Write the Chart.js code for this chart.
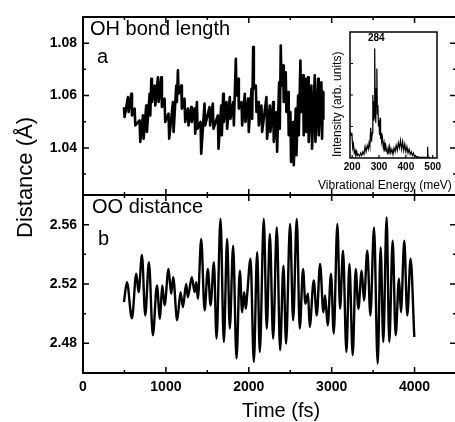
<!DOCTYPE html>
<html>
<head>
<meta charset="utf-8">
<script src="https://cdn.jsdelivr.net/npm/chart.js@4"></script>
<style>
  html, body { margin: 0; padding: 0; background: #fff; overflow: hidden; }
  #wrap { position: relative; width: 455px; height: 422px; overflow: hidden; background: #fff; font-family: 'Liberation Sans', Arial, sans-serif; color: #000; }
  #wrap canvas { position: absolute; }
  .lbl { position: absolute; white-space: nowrap; font-size: 20px; line-height: 20px; }
  .rot { transform-origin: 0 0; transform: rotate(-90deg); }
</style>
</head>
<body>
<div id="wrap">
  <canvas id="cTop" width="460" height="196" style="left:0;top:0"></canvas>
  <canvas id="cBot" width="460" height="229" style="left:0;top:193px"></canvas>
  <canvas id="cIns" width="145" height="180" style="left:310px;top:15px"></canvas>

  <div class="lbl" style="left:90px;top:18px">OH bond length</div>
  <div class="lbl" style="left:97px;top:46px">a</div>
  <div class="lbl" style="left:92px;top:196px">OO distance</div>
  <div class="lbl" style="left:98px;top:228px">b</div>
  <div class="lbl" style="left:242px;top:400px">Time (fs)</div>
  <div class="lbl rot" style="left:14px;top:238px;font-size:22px;line-height:22px">Distance (Å)</div>

  <div class="lbl rot" style="left:331px;top:157px;font-size:12px;line-height:12px">Intensity (arb. units)</div>
  <div class="lbl" style="left:318px;top:179px;font-size:12px;line-height:12px">Vibrational Energy (meV)</div>
  <div class="lbl" style="left:368px;top:33px;font-size:10px;line-height:10px;font-weight:bold">284</div>
</div>
<script>
// panel a: OH bond length (fs, Angstrom)
const ohTime = [494,502,542,550,583,591,623,631,683,691,723,731,763,771,804,812,824,832,864,872,
  904,912,944,952,984,992,1032,1040,1085,1093,1125,1133,1145,1153,1185,1193,1225,1233,1265,1273,
  1305,1313,1346,1354,1374,1382,1418,1426,1466,1474,1526,1534,1566,1574,1627,1635,1667,1675,1691,1699,
  1731,1739,1771,1779,1812,1820,1844,1852,1872,1880,1912,1920,1952,1960,1992,2000,2033,2041,2053,2061,
  2085,2093,2113,2121,2153,2161,2213,2221,2253,2261,2294,2302,2334,2342,2366,2374,2386,2394,2414,2422,
  2446,2454,2474,2482,2502,2510,2535,2543,2567,2575,2595,2603,2623,2631,2655,2663,2687,2695,2715,2723,
  2755,2763,2796,2804,2836,2844,2876,2884,2896,2900];
const ohLength = [1.0556,1.0518,1.0594,1.0537,1.0607,1.0524,1.0550,1.0486,1.0505,1.0423,1.0524,1.0435,1.0562,1.0461,1.0607,1.0524,1.0664,1.0575,1.0638,1.0562,
  1.0670,1.0575,1.0670,1.0556,1.0588,1.0499,1.0531,1.0435,1.0575,1.0461,1.0638,1.0575,1.0696,1.0607,1.0638,1.0550,1.0588,1.0499,1.0550,1.0486,
  1.0556,1.0499,1.0550,1.0454,1.0575,1.0473,1.0499,1.0378,1.0569,1.0486,1.0556,1.0486,1.0569,1.0473,1.0524,1.0397,1.0562,1.0448,1.0607,1.0499,
  1.0575,1.0473,1.0594,1.0511,1.0575,1.0486,1.0740,1.0600,1.0664,1.0550,1.0575,1.0486,1.0607,1.0499,1.0588,1.0461,1.0626,1.0511,1.0785,1.0626,
  1.0638,1.0537,1.0575,1.0486,1.0562,1.0461,1.0594,1.0435,1.0562,1.0461,1.0575,1.0423,1.0537,1.0385,1.0651,1.0473,1.0791,1.0638,1.0715,1.0575,
  1.0689,1.0537,1.0613,1.0448,1.0537,1.0346,1.0499,1.0334,1.0550,1.0372,1.0600,1.0448,1.0734,1.0537,1.0677,1.0448,1.0664,1.0461,1.0670,1.0423,
  1.0638,1.0397,1.0677,1.0423,1.0664,1.0448,1.0651,1.0435,1.0613,1.0511];

// panel b: OO distance
const ooTime = [494,530,590,643,671,711,751,795,843,892,928,956,984,1032,1064,1088,1136,1177,1205,1245,
  1265,1313,1346,1366,1386,1426,1467,1506,1539,1579,1611,1659,1699,1739,1771,1811,1852,1892,1920,1944,
  1964,1980,2021,2061,2101,2133,2181,2217,2254,2294,2338,2378,2418,2450,2498,2535,2579,2615,2655,2683,
  2715,2735,2784,2820,2860,2900,2920,2952,2992,3025,3069,3101,3137,3178,3214,3254,3290,3322,3362,3390,
  3430,3467,3511,3555,3591,3623,3663,3695,3736,3772,3812,3836,3876,3912,3952,3997];
const ooDist = [2.5078,2.5212,2.4968,2.527,2.5145,2.5396,2.4988,2.5347,2.4854,2.519,2.4966,2.519,2.5056,2.5302,2.5134,2.5246,2.4955,2.5145,2.5044,2.520,
  2.5111,2.5246,2.5145,2.5212,2.510,2.5504,2.5022,2.5302,2.5056,2.5347,2.4832,2.5638,2.4809,2.5504,2.490,2.5459,2.4698,2.529,2.501,2.5145,
  2.5033,2.5123,2.537,2.4675,2.5414,2.4742,2.5638,2.490,2.5537,2.4832,2.5582,2.4753,2.5324,2.4798,2.5605,2.4955,2.5638,2.490,2.5302,2.5067,
  2.5134,2.491,2.5224,2.4988,2.5336,2.501,2.5123,2.4921,2.5269,2.4866,2.5605,2.5033,2.5425,2.4742,2.5336,2.472,2.5302,2.5033,2.529,2.5089,
  2.5425,2.4988,2.5582,2.4664,2.5447,2.4809,2.5649,2.4809,2.5492,2.4854,2.5235,2.501,2.5492,2.4988,2.537,2.4843];

// inset: vibrational spectrum
const energy = [193,196,199,202,205,208,211,214,217,220,224,228,232,236,240,244,248,252,256,260,
  263,266,269,272,275,277,279,281,283,284,286,288,290,292,294,296,298,300,302,304,
  306,308,310,313,316,319,322,325,328,331,334,337,340,344,348,352,356,360,364,368,
  372,376,380,384,388,392,396,400,404,408,412,416,420,424,428,432,436,440,445,450,
  455,460,465,470,475,479,481,483,487,490];
const intensity = [0.21,0.18,0.20,0.08,0.11,0.04,0.06,0.02,0.05,0.02,0.03,0.015,0.04,0.02,0.05,0.03,0.09,0.05,0.10,0.07,
  0.12,0.09,0.24,0.13,0.20,0.50,0.30,0.45,0.32,0.87,0.40,0.28,0.55,0.71,0.35,0.42,0.25,0.30,0.18,0.32,
  0.15,0.20,0.13,0.16,0.08,0.12,0.05,0.10,0.06,0.04,0.08,0.03,0.09,0.04,0.07,0.03,0.08,0.05,0.10,0.06,
  0.12,0.08,0.14,0.07,0.13,0.06,0.11,0.05,0.09,0.04,0.07,0.03,0.05,0.02,0.04,0.01,0.02,0.005,0.01,0.005,
  0.005,0.005,0.005,0.005,0.005,0.005,0.09,0.005,0.005,0.005];

// tick marks
const timeMajor = [0,1000,2000,3000,4000];
const timeMinor = [500,1500,2500,3500];
const ohMajor = [1.04,1.06,1.08];
const ohMinor = [1.03,1.05,1.07];
const ooMajor = [2.48,2.52,2.56];
const ooMinor = [2.50,2.54];
const energyTicks = [200,300,400,500];
const intensityTicks = [0.25,0.5,0.75];

Chart.defaults.font.family = "'Liberation Sans', Arial, sans-serif";
Chart.defaults.color = '#000';

// box round the plot area plus inward ticks
const frameTicks = {
  id: 'frameTicks',
  afterDraw(chart, args, o) {
    const {ctx, chartArea: a, scales} = chart;
    ctx.save();
    ctx.strokeStyle = '#000';
    ctx.lineWidth = o.width;
    ctx.strokeRect(a.left, a.top, a.right - a.left, a.bottom - a.top);
    ctx.beginPath();
    (o.x || []).forEach(([v, len]) => {
      const p = scales.x.getPixelForValue(v);
      if (o.xSides.includes('b')) { ctx.moveTo(p, a.bottom); ctx.lineTo(p, a.bottom - len); }
      if (o.xSides.includes('t')) { ctx.moveTo(p, a.top); ctx.lineTo(p, a.top + len); }
    });
    (o.y || []).forEach(([v, len]) => {
      const p = scales.y.getPixelForValue(v);
      if (o.ySides.includes('l')) { ctx.moveTo(a.left, p); ctx.lineTo(a.left + len, p); }
      if (o.ySides.includes('r')) { ctx.moveTo(a.right, p); ctx.lineTo(a.right - len, p); }
    });
    ctx.lineWidth = o.tickWidth;
    ctx.stroke();
    ctx.restore();
  }
};

// fixed axis box size, no extra padding from the tick labels
const fixW = w => s => { s.width = w; s.paddingTop = s.paddingBottom = s.paddingLeft = s.paddingRight = 0; };
const fixH = h => s => { s.height = h; s.paddingTop = s.paddingBottom = s.paddingLeft = s.paddingRight = 0; };
const useTicks = vals => s => { s.ticks = vals.map(v => ({value: v})); };

const tickFont = {size: 14, weight: 'bold'};
const timeTickMarks = timeMajor.map(v => [v, 6]).concat(timeMinor.map(v => [v, 3]));

const pts = (xs, ys) => xs.map((x, i) => ({x: x, y: ys[i]}));

new Chart(document.getElementById('cTop'), {
  type: 'line',
  data: { datasets: [{ data: pts(ohTime, ohLength), borderColor: '#000', borderWidth: 2.6, borderJoinStyle: 'round', pointRadius: 0, tension: 0 }] },
  options: {
    responsive: false, animation: false,
    layout: { padding: { top: 17, right: 4, bottom: 1, left: 0 } },
    plugins: {
      legend: { display: false }, tooltip: { enabled: false },
      frameTicks: { width: 2, tickWidth: 1.5, xSides: 'tb', ySides: 'lr',
        x: timeTickMarks,
        y: ohMajor.map(v => [v, 6]).concat(ohMinor.map(v => [v, 3])) }
    },
    scales: {
      x: { type: 'linear', min: 0, max: 4500, display: false },
      y: { min: 1.022, max: 1.09,
        afterBuildTicks: useTicks(ohMajor), afterFit: fixW(83),
        grid: { display: false, drawTicks: false }, border: { display: false },
        ticks: { padding: 6, font: tickFont, callback: v => v.toFixed(2) } }
    }
  },
  plugins: [frameTicks]
});

new Chart(document.getElementById('cBot'), {
  type: 'line',
  data: { datasets: [{ data: pts(ooTime, ooDist), borderColor: '#000', borderWidth: 2.4, pointRadius: 0, cubicInterpolationMode: 'monotone' }] },
  options: {
    responsive: false, animation: false,
    layout: { padding: { top: 2, right: 4, bottom: 0, left: 0 } },
    plugins: {
      legend: { display: false }, tooltip: { enabled: false },
      frameTicks: { width: 2, tickWidth: 1.5, xSides: 'tb', ySides: 'lr',
        x: timeTickMarks,
        y: ooMajor.map(v => [v, 6]).concat(ooMinor.map(v => [v, 3])) }
    },
    scales: {
      x: { type: 'linear', min: 0, max: 4500,
        afterBuildTicks: useTicks(timeMajor), afterFit: fixH(49),
        grid: { display: false, drawTicks: false }, border: { display: false },
        ticks: { padding: 6, font: tickFont, maxRotation: 0, callback: v => String(v) } },
      y: { min: 2.46, max: 2.58,
        afterBuildTicks: useTicks(ooMajor), afterFit: fixW(83),
        grid: { display: false, drawTicks: false }, border: { display: false },
        ticks: { padding: 6, font: tickFont, callback: v => v.toFixed(2) } }
    }
  },
  plugins: [frameTicks]
});

new Chart(document.getElementById('cIns'), {
  type: 'line',
  data: { datasets: [{ data: pts(energy, intensity), borderColor: '#000', borderWidth: 1.2, pointRadius: 0, tension: 0 }] },
  options: {
    responsive: false, animation: false,
    layout: { padding: { top: 17, right: 18, bottom: 0, left: 0 } },
    plugins: {
      legend: { display: false }, tooltip: { enabled: false },
      frameTicks: { width: 1.5, tickWidth: 1.2, xSides: 'b', ySides: 'l',
        x: energyTicks.map(v => [v, 3]),
        y: intensityTicks.map(v => [v, 3]) }
    },
    scales: {
      x: { type: 'linear', min: 192, max: 516,
        afterBuildTicks: useTicks(energyTicks), afterFit: fixH(37),
        grid: { display: false, drawTicks: false }, border: { display: false },
        ticks: { padding: 3, maxRotation: 0, font: { size: 10, weight: 'bold' }, callback: v => String(v) } },
      y: { min: 0, max: 1,
        afterFit: fixW(40),
        grid: { display: false, drawTicks: false }, border: { display: false },
        ticks: { display: false } }
    }
  },
  plugins: [frameTicks]
});
</script>
</body>
</html>
